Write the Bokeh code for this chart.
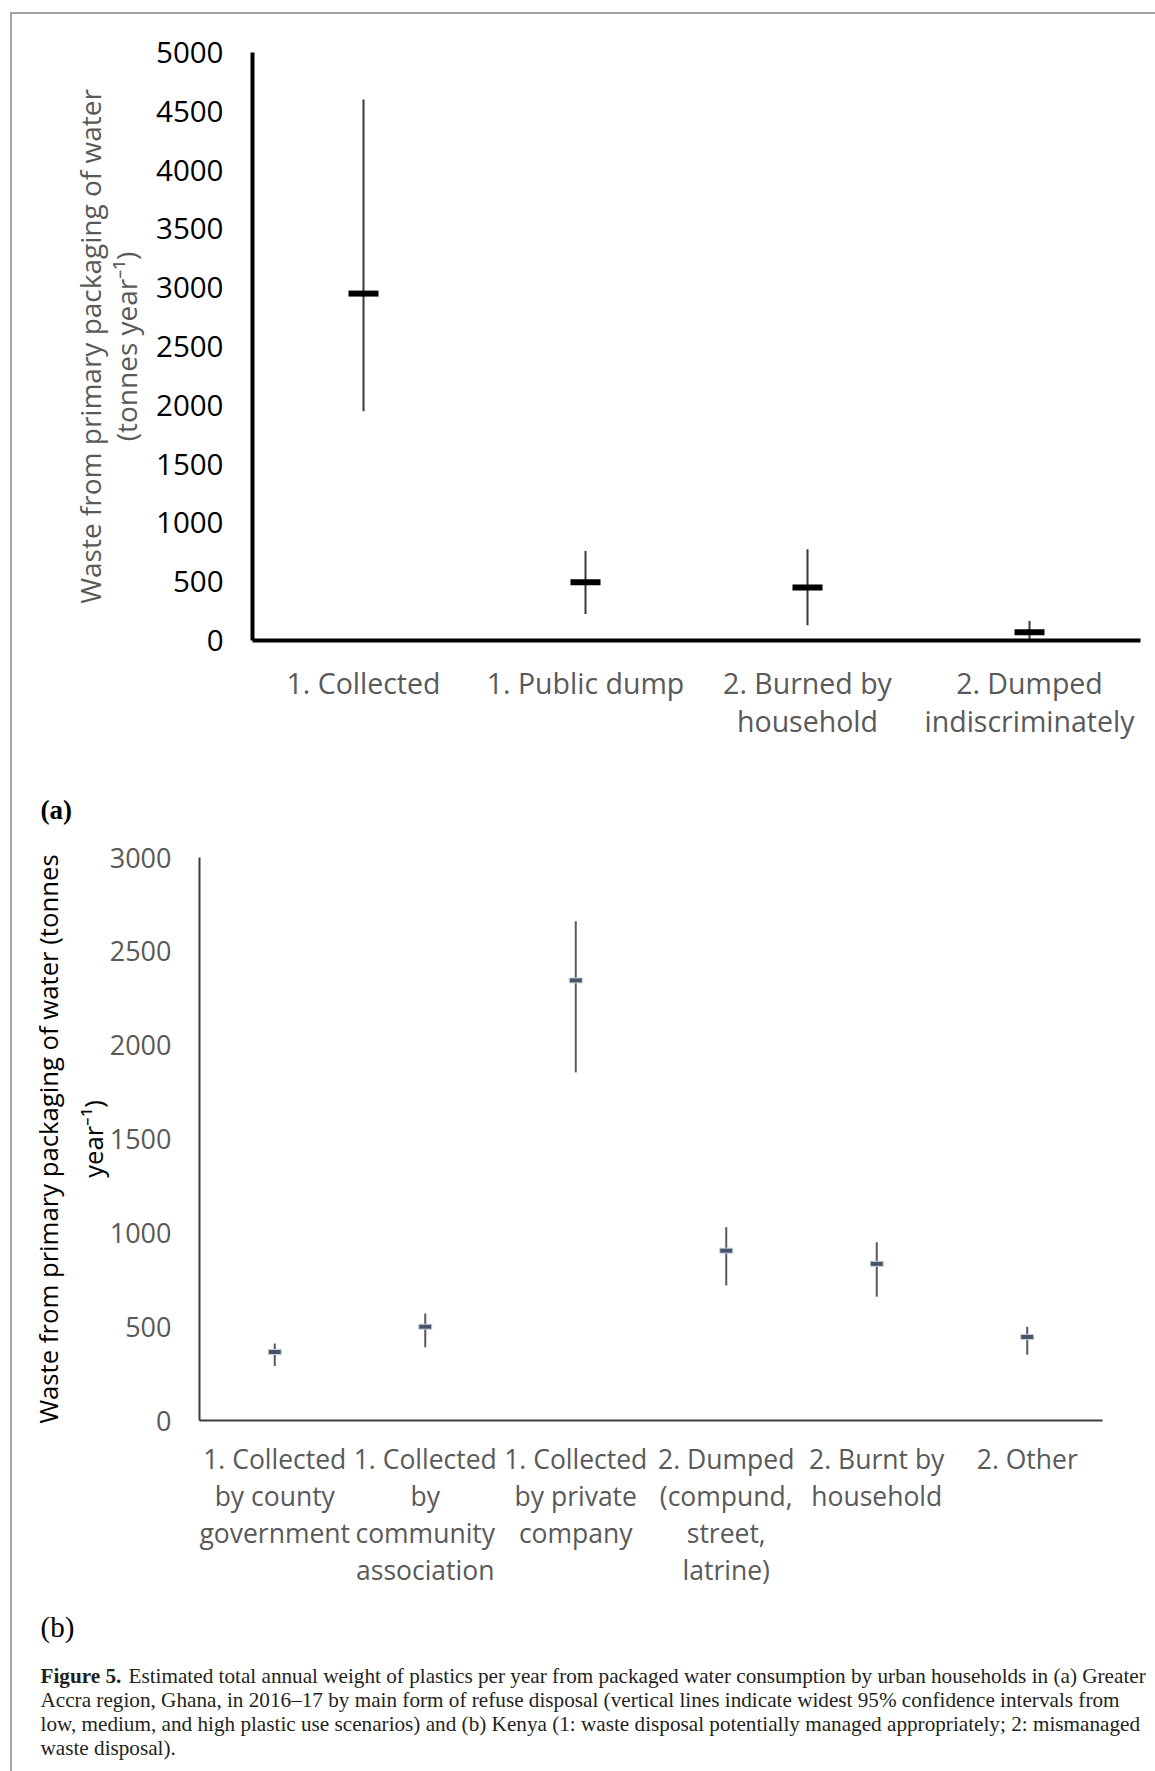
from bokeh.plotting import figure
from bokeh.models import FactorRange, Range1d, FixedTicker, Label, ColumnDataSource
from bokeh.embed import file_html
from bokeh.resources import INLINE

# (a) Greater Accra region, Ghana – main form of refuse disposal
disposal_a = ["1. Collected", "1. Public dump", "2. Burned by\nhousehold",
              "2. Dumped\nindiscriminately"]
central_a = [2950, 495, 450, 70]
lower_a = [1950, 225, 130, 0]
upper_a = [4600, 760, 775, 165]
ticks_a = [0, 500, 1000, 1500, 2000, 2500, 3000, 3500, 4000, 4500, 5000]

# (b) Kenya – main form of refuse disposal
disposal_b = ["1. Collected\nby county\ngovernment",
              "1. Collected\nby\ncommunity\nassociation",
              "1. Collected\nby private\ncompany",
              "2. Dumped\n(compund,\nstreet,\nlatrine)",
              "2. Burnt by\nhousehold",
              "2. Other"]
central_b = [365, 500, 2345, 905, 835, 445]
lower_b = [290, 390, 1855, 720, 660, 350]
upper_b = [410, 570, 2660, 1030, 950, 500]
ticks_b = [0, 500, 1000, 1500, 2000, 2500, 3000]

caption_lines = [
    "Estimated total annual weight of plastics per year from packaged water consumption by urban households in (a) Greater",
    "Accra region, Ghana, in 2016\u201317 by main form of refuse disposal (vertical lines indicate widest 95% confidence intervals from",
    "low, medium, and high plastic use scenarios) and (b) Kenya (1: waste disposal potentially managed appropriately; 2: mismanaged",
    "waste disposal).",
]

SANS = "Open Sans"
SERIF = "Liberation Serif"
RULE = "#a3a3a3"
CAPTION_SIZE = "21.2px"


def make_panel(factors, ymax, height, left, right, top, bottom, page_css):
    p = figure(x_range=FactorRange(factors=factors), y_range=Range1d(0, ymax),
               width=1155, height=height, output_backend="svg",
               toolbar_location=None, min_border_left=left,
               min_border_right=right, min_border_top=top,
               min_border_bottom=bottom)
    p.grid.visible = False
    p.outline_line_color = None
    # transparent canvas so the page rule drawn by CSS shows through
    p.background_fill_color = None
    p.border_fill_color = None
    p.styles = {"background": page_css}
    for ax in (p.xaxis[0], p.yaxis[0]):
        ax.major_tick_line_color = None
        ax.minor_tick_line_color = None
        ax.major_tick_out = 0
        ax.major_tick_in = 0
        ax.major_label_text_font = SANS
        ax.axis_label_text_font = SANS
        ax.axis_label_text_font_style = "normal"
    return p


def canvas_text(p, x, y, txt, size, style="normal", color="black"):
    # text placed in canvas pixels, kept in a side panel so it is not clipped
    p.add_layout(Label(x=x, y=y, x_units="canvas", y_units="canvas", text=txt,
                       text_font=SERIF, text_font_size=size,
                       text_font_style=style, text_baseline="middle",
                       text_align="left", text_color=color), "below")


# ---------------- panel (a) ----------------
rule_a = (f"linear-gradient({RULE},{RULE}) 10px 12px / 2px calc(100% - 12px) no-repeat, "
          f"linear-gradient({RULE},{RULE}) 10px 12px / calc(100% - 10px) 2px no-repeat, white")
pa = make_panel(disposal_a, 5000, 830, 252, 15, 52, 190, rule_a)
src_a = ColumnDataSource(dict(cat=disposal_a, mid=central_a, lo=lower_a, hi=upper_a))
pa.segment(x0="cat", y0="lo", x1="cat", y1="hi", source=src_a,
           line_color="#3a3a3a", line_width=2)
pa.rect(x="cat", y="mid", width=30, height=6, width_units="screen",
        height_units="screen", source=src_a, fill_color="black", line_color=None)

xa = pa.xaxis[0]
xa.axis_line_width = 4
xa.axis_line_color = "black"
xa.major_label_text_font_size = "28.5px"
xa.major_label_text_color = "#595959"
xa.major_label_text_line_height = 1.02
xa.major_label_standoff = 23

ya = pa.yaxis[0]
ya.ticker = FixedTicker(ticks=ticks_a)
ya.axis_line_width = 4
ya.axis_line_color = "black"
ya.major_label_text_font_size = "29.5px"
ya.major_label_text_color = "black"
ya.major_label_standoff = 29
ya.axis_label = "Waste from primary packaging of water\n(tonnes year\u207b\u00b9)"
ya.axis_label_text_font_size = "28px"
ya.axis_label_text_color = "#595959"
ya.axis_label_text_line_height = 0.95
ya.axis_label_standoff = 8

canvas_text(pa, 40, 809, "(a)", "27px", style="bold")

# ---------------- panel (b) ----------------
rule_b = f"linear-gradient({RULE},{RULE}) 10px 0 / 2px 100% no-repeat, white"
pb = make_panel(disposal_b, 3000, 941, 199, 53, 27, 351, rule_b)
src_b = ColumnDataSource(dict(cat=disposal_b, mid=central_b, lo=lower_b, hi=upper_b))
pb.segment(x0="cat", y0="lo", x1="cat", y1="hi", source=src_b,
           line_color="#595959", line_width=2)
pb.rect(x="cat", y="mid", width=13, height=5, width_units="screen",
        height_units="screen", source=src_b, fill_color="#44546a",
        line_color="#c9d0dc", line_width=1)

xb = pb.xaxis[0]
xb.axis_line_width = 2
xb.axis_line_color = "#3c3c3c"
xb.major_label_text_font_size = "26.5px"
xb.major_label_text_color = "#595959"
xb.major_label_text_line_height = 1.03
xb.major_label_standoff = 20

yb = pb.yaxis[0]
yb.ticker = FixedTicker(ticks=ticks_b)
yb.axis_line_width = 2
yb.axis_line_color = "#3c3c3c"
yb.major_label_text_font_size = "27px"
yb.major_label_text_color = "#595959"
yb.major_label_standoff = 28
yb.axis_label = "Waste from primary packaging of water (tonnes\nyear\u207b\u00b9)"
yb.axis_label_text_font_size = "25.7px"
yb.axis_label_text_color = "black"
yb.axis_label_text_line_height = 1.28
yb.axis_label_standoff = -4

canvas_text(pb, 40, 796, "(b)", "29px")
cap_y = [845, 869, 893, 917]
canvas_text(pb, 40, cap_y[0], "Figure 5.", CAPTION_SIZE, style="bold", color="#231f20")
for i, line in enumerate(caption_lines):
    canvas_text(pb, 128 if i == 0 else 40, cap_y[i], line, CAPTION_SIZE, color="#231f20")

open("out.html", "w").write(file_html([pa, pb], INLINE))
